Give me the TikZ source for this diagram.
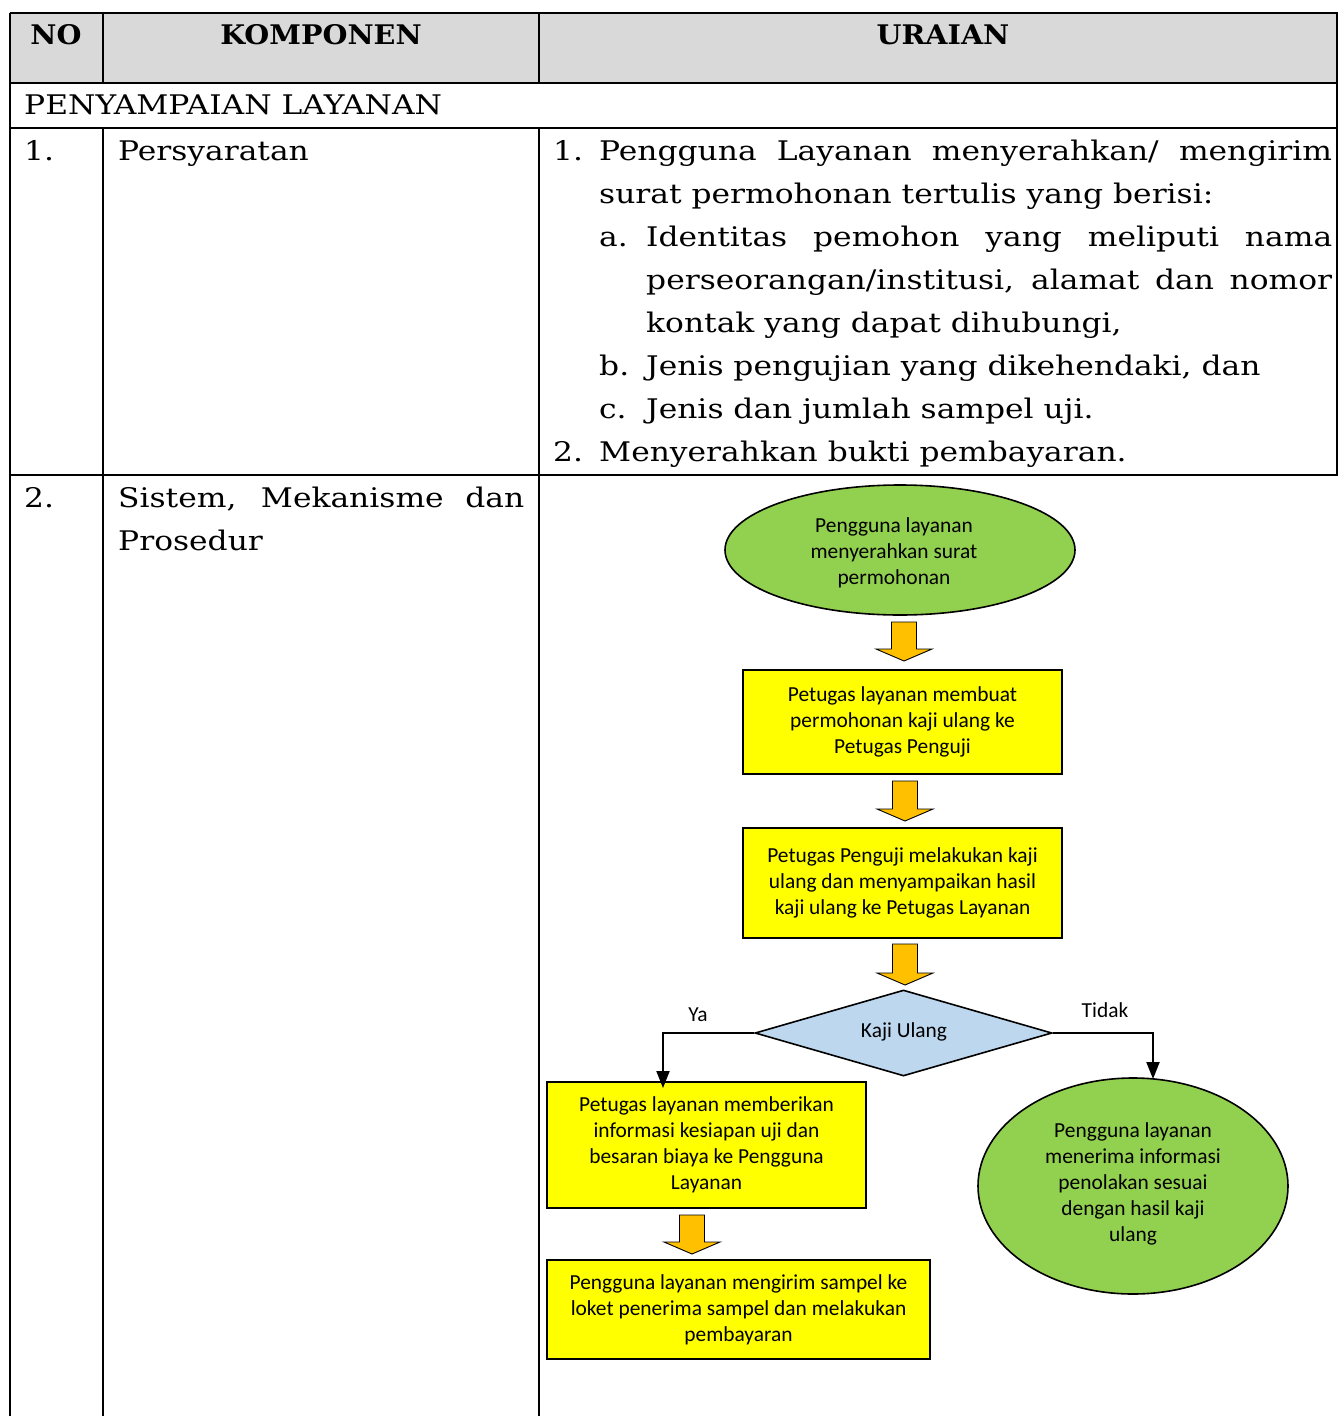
\documentclass[tikz,border=0pt]{standalone}
\usepackage{fontspec}
\setmainfont{DejaVu Serif}[FakeStretch=1.16, BoldFeatures={FakeStretch=1.06}]
\newfontfamily\fc{Carlito}
\usetikzlibrary{shapes.geometric,arrows.meta,calc}
\definecolor{hdr}{HTML}{D9D9D9}
\definecolor{gr}{HTML}{92D050}
\definecolor{yl}{HTML}{FFFF00}
\definecolor{bl}{HTML}{BDD7EE}
\definecolor{org}{HTML}{FFC000}
\newcommand\blockarrow[3]{%
  \draw[fill=org, line width=0.9pt, line join=miter] (#1-12.5,#2) -- (#1+12.5,#2) -- (#1+12.5,#3-12) -- (#1+28,#3-12) -- (#1,#3) -- (#1-28,#3-12) -- (#1-12.5,#3-12) -- cycle;}
\begin{document}
\begin{tikzpicture}[x=1pt,y=-1pt,
  tx/.style={anchor=base west, inner sep=0, font=\fontsize{27}{43}\selectfont},
  hd/.style={anchor=base, inner sep=0, font=\fontsize{27}{34}\selectfont\bfseries},
  rule/.style={line width=1.6pt},
  fl/.style={font=\fc\fontsize{21.4}{26}\selectfont, align=center, inner sep=0},
  ybox/.style={fl, draw, line width=1.6pt, fill=yl},
  conn/.style={line width=2pt, -{Triangle[width=13pt,length=17pt]}}]
\useasboundingbox (0,0) rectangle (1338,1416);
% header fill
\fill[hdr] (10,13) rectangle (1338,83);
% table rules
\draw[rule] (10,13) -- (1338,13);
\draw[rule] (10,83) -- (1338,83);
\draw[rule] (10,128) -- (1338,128);
\draw[rule] (10,475) -- (1338,475);
\draw[rule] (10,13) -- (10,1416);
\draw[rule] (103,13) -- (103,83);
\draw[rule] (539,13) -- (539,83);
\draw[rule] (103,128) -- (103,1416);
\draw[rule] (539,128) -- (539,1416);
\draw[rule] (1337,13) -- (1337,475);
% header text
\node[hd] (hno) at (56,44) {NO};
\node[hd] (hkomp) at (321,44) {KOMPONEN};
\node[hd] (hur) at (943,44) {URAIAN};
\node[tx] (sec) at (24,114) {PENYAMPAIAN LAYANAN};
% row 1
\node[tx] (n1) at (24,160) {1.};
\node[tx] (k1) at (118,160) {Persyaratan};
\node[tx] (u1a) at (553,160) {1.};
\node[tx] (u1b) at (599,160) {\makebox[733pt][s]{Pengguna Layanan menyerahkan/ mengirim}};
\node[tx] (u2) at (599,203) {surat permohonan tertulis yang berisi:};
\node[tx] (u3a) at (599,246) {a.};
\node[tx] (u3b) at (646,246) {\makebox[686pt][s]{Identitas pemohon yang meliputi nama}};
\node[tx] (u4) at (646,289) {\makebox[686pt][s]{perseorangan/institusi, alamat dan nomor}};
\node[tx] (u5) at (646,332) {kontak yang dapat dihubungi,};
\node[tx] (u6a) at (599,375) {b.};
\node[tx] (u6b) at (646,375) {Jenis pengujian yang dikehendaki, dan};
\node[tx] (u7a) at (599,418) {c.};
\node[tx] (u7b) at (646,418) {Jenis dan jumlah sampel uji.};
\node[tx] (u8a) at (553,461) {2.};
\node[tx] (u8b) at (599,461) {Menyerahkan bukti pembayaran.};
% row 2
\node[tx] (n2) at (24,507) {2.};
\node[tx] (k2a) at (118,507) {\makebox[406pt][s]{Sistem, Mekanisme dan}};
\node[tx] (k2b) at (118,550) {Prosedur};
% flowchart
\node[fl, ellipse, draw, line width=1.6pt, fill=gr, minimum width=350pt, minimum height=130pt] (e1) at (900,550) {};
\node[fl] (e1t) at (894,553) {Pengguna layanan\\menyerahkan surat\\permohonan};
\node[ybox, minimum width=319pt, minimum height=104pt] (b1) at (902.5,722) {Petugas layanan membuat\\permohonan kaji ulang ke\\Petugas Penguji};
\node[ybox, minimum width=319pt, minimum height=110pt] (b2) at (902.5,883) {Petugas Penguji melakukan kaji\\ulang dan menyampaikan hasil\\kaji ulang ke Petugas Layanan};
\node[fl, diamond, draw, line width=1.6pt, fill=bl, minimum width=297pt, minimum height=86pt] (d1) at (903.5,1033) {};
\node[fl] (d1t) at (904,1032) {Kaji Ulang};
\node[ybox, minimum width=319pt, minimum height=126pt] (b3) at (706.5,1145) {Petugas layanan memberikan\\informasi kesiapan uji dan\\besaran biaya ke Pengguna\\Layanan};
\node[ybox, minimum width=383pt, minimum height=99pt] (b4) at (738.5,1309.5) {Pengguna layanan mengirim sampel ke\\loket penerima sampel dan melakukan\\pembayaran};
\node[fl, ellipse, draw, line width=1.6pt, fill=gr, minimum width=310pt, minimum height=216pt] (c1) at (1133,1186) {};
\node[fl] (c1t) at (1133,1184) {Pengguna layanan\\menerima informasi\\penolakan sesuai\\dengan hasil kaji\\ulang};
\node[fl] (ya) at (698,1015) {Ya};
\node[fl] (tidak) at (1105,1010) {Tidak};
% block arrows
\blockarrow{904}{622}{661}
\blockarrow{905}{781}{821}
\blockarrow{905}{944}{985}
\blockarrow{692}{1215}{1254}
% connectors
\coordinate (yend) at (663,1088);
\coordinate (tend) at (1153,1079);
\draw[conn] (d1.west) -| (yend);
\draw[conn] (d1.east) -| (tend);
\end{tikzpicture}
\end{document}
